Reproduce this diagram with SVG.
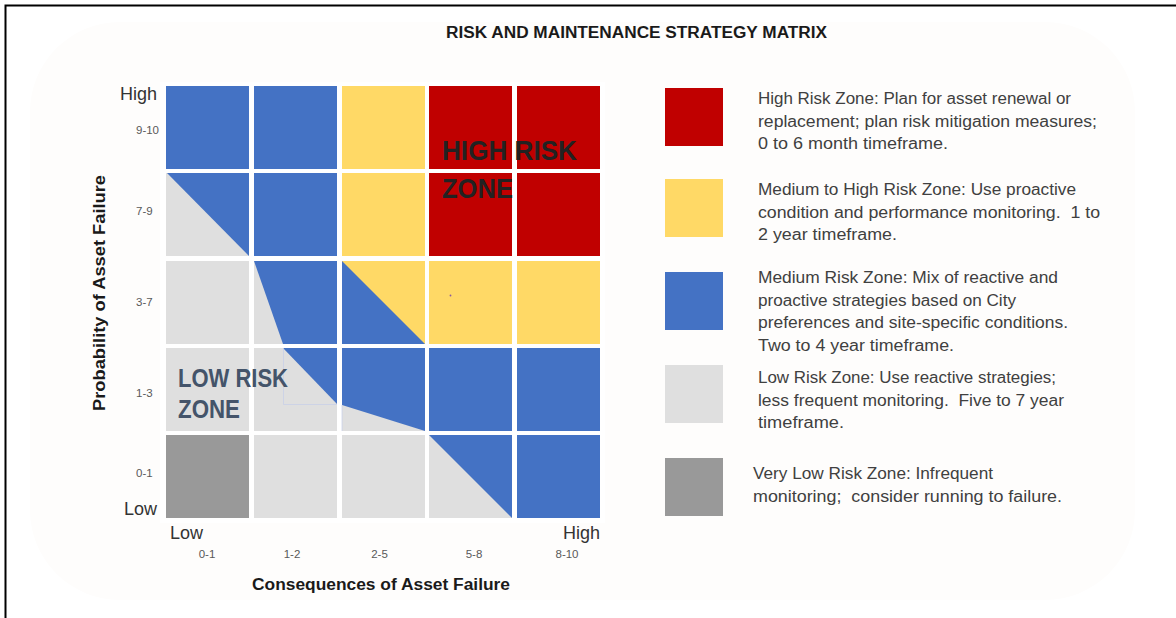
<svg xmlns="http://www.w3.org/2000/svg" width="1176" height="618" viewBox="0 0 1176 618">
  <style>
    .t { font-family: "Liberation Sans", Arial, sans-serif; }
    .title { font-size: 16px; font-weight: bold; fill: #1a1a1a; }
    .ax { font-size: 16px; font-weight: bold; fill: #1a1a1a; }
    .hl { font-size: 18px; fill: #333333; }
    .rg { font-size: 11.5px; fill: #595959; }
    .lg { font-size: 16px; fill: #404040; }
    .zoneH { font-size: 28px; font-weight: bold; fill: #222222; }
    .zoneL { font-size: 25px; font-weight: bold; fill: #44546A; }
    .blue { fill: #4472C4; }
    .yel { fill: #FFD966; }
    .red { fill: #C00000; }
    .lgr { fill: #DFDFDF; }
    .dgr { fill: #999999; }
  </style>

  <rect x="0" y="0" width="1176" height="618" fill="#FFFFFF"/>
  <rect x="30" y="22" width="1105" height="578" rx="90" ry="90" fill="#FEFDFC"/>
  <path d="M5.5,618 V5.5 H1176" fill="none" stroke="#000000" stroke-width="2"/>

  <text class="t title" x="446" y="38" textLength="381" lengthAdjust="spacingAndGlyphs">RISK AND MAINTENANCE STRATEGY MATRIX</text>

  <!-- Matrix -->
  <g id="matrix">
    <rect x="160" y="82" width="445" height="441" fill="#FFFFFF"/>
    <!-- Row 1: 9-10 -->
    <g id="row-9-10">
      <rect class="blue" x="166" y="86" width="83" height="83"/>
      <rect class="blue" x="254" y="86" width="83" height="83"/>
      <rect class="yel" x="342" y="86" width="83" height="83"/>
      <rect class="red" x="429" y="86" width="83" height="83"/>
      <rect class="red" x="517" y="86" width="83" height="83"/>
    </g>
    <!-- Row 2: 7-9 -->
    <g id="row-7-9">
      <rect class="lgr" x="166" y="173" width="83" height="83"/>
      <polygon class="blue" points="167,173 249,173 249,256"/>
      <rect class="blue" x="254" y="173" width="83" height="83"/>
      <rect class="yel" x="342" y="173" width="83" height="83"/>
      <rect class="red" x="429" y="173" width="83" height="83"/>
      <rect class="red" x="517" y="173" width="83" height="83"/>
    </g>
    <!-- Row 3: 3-7 -->
    <g id="row-3-7">
      <rect class="lgr" x="166" y="261" width="83" height="83"/>
      <rect class="lgr" x="254" y="261" width="83" height="83"/>
      <polygon class="blue" points="254,261 337,261 337,344 283,344"/>
      <rect class="yel" x="342" y="261" width="83" height="83"/>
      <polygon class="blue" points="342,261 425,344 342,344"/>
      <rect class="yel" x="429" y="261" width="83" height="83"/>
      <rect class="yel" x="517" y="261" width="83" height="83"/>
      <circle cx="450.5" cy="295.5" r="0.9" fill="#8a5aa0"/>
    </g>
    <!-- Row 4: 1-3 -->
    <g id="row-1-3">
      <rect class="lgr" x="166" y="348" width="83" height="83"/>
      <rect class="lgr" x="254" y="348" width="83" height="83"/>
      <polygon class="blue" points="283,348 337,348 337,404"/>
      <rect class="blue" x="342" y="348" width="83" height="83"/>
      <polygon class="lgr" points="342,405 425,431 342,431"/>
      <rect class="blue" x="429" y="348" width="83" height="83"/>
      <rect class="blue" x="517" y="348" width="83" height="83"/>
      <path d="M283.5,348 V404.5 H337 M342,405 V431" fill="none" stroke="#C5CFEA" stroke-width="0.7"/>
    </g>
    <!-- Row 5: 0-1 -->
    <g id="row-0-1">
      <rect class="dgr" x="166" y="435" width="83" height="83"/>
      <rect class="lgr" x="254" y="435" width="83" height="83"/>
      <rect class="lgr" x="342" y="435" width="83" height="83"/>
      <rect class="lgr" x="429" y="435" width="83" height="83"/>
      <polygon class="blue" points="429,435 512,435 512,518"/>
      <rect class="blue" x="517" y="435" width="83" height="83"/>
    </g>
  </g>

  <g id="zone-labels">
    <text class="t zoneH" x="442" y="160" textLength="135" lengthAdjust="spacingAndGlyphs">HIGH RISK</text>
    <text class="t zoneH" x="442" y="198" textLength="71" lengthAdjust="spacingAndGlyphs">ZONE</text>
    <text class="t zoneL" x="178" y="387" textLength="110" lengthAdjust="spacingAndGlyphs">LOW RISK</text>
    <text class="t zoneL" x="178" y="418" textLength="62" lengthAdjust="spacingAndGlyphs">ZONE</text>
  </g>

  <!-- Y axis -->
  <g id="y-axis">
    <text class="t ax" transform="translate(105,293) rotate(-90)" x="0" y="0" text-anchor="middle" textLength="236" lengthAdjust="spacingAndGlyphs">Probability of Asset Failure</text>
    <text class="t hl" x="157" y="100" text-anchor="end">High</text>
    <text class="t hl" x="157" y="515" text-anchor="end">Low</text>
    <text class="t rg" x="136" y="134">9-10</text>
    <text class="t rg" x="136" y="215">7-9</text>
    <text class="t rg" x="136" y="306">3-7</text>
    <text class="t rg" x="136" y="397">1-3</text>
    <text class="t rg" x="136" y="477">0-1</text>
  </g>

  <!-- X axis -->
  <g id="x-axis">
    <text class="t hl" x="170" y="539">Low</text>
    <text class="t hl" x="600" y="539" text-anchor="end">High</text>
    <text class="t rg" x="207" y="558" text-anchor="middle">0-1</text>
    <text class="t rg" x="292" y="558" text-anchor="middle">1-2</text>
    <text class="t rg" x="379.5" y="558" text-anchor="middle">2-5</text>
    <text class="t rg" x="474" y="558" text-anchor="middle">5-8</text>
    <text class="t rg" x="567" y="558" text-anchor="middle">8-10</text>
    <text class="t ax" x="252" y="590" textLength="258" lengthAdjust="spacingAndGlyphs">Consequences of Asset Failure</text>
  </g>

  <!-- Legend -->
  <g id="legend-high">
    <rect class="red" x="665" y="88" width="58" height="58"/>
    <text class="t lg" x="758" y="104" textLength="313" lengthAdjust="spacingAndGlyphs">High Risk Zone: Plan for asset renewal or</text>
    <text class="t lg" x="758" y="127" textLength="339" lengthAdjust="spacingAndGlyphs">replacement; plan risk mitigation measures;</text>
    <text class="t lg" x="758" y="149" textLength="190" lengthAdjust="spacingAndGlyphs">0 to 6 month timeframe.</text>
  </g>
  <g id="legend-medium-high">
    <rect class="yel" x="665" y="179" width="58" height="58"/>
    <text class="t lg" x="758" y="195" textLength="318" lengthAdjust="spacingAndGlyphs">Medium to High Risk Zone: Use proactive</text>
    <text class="t lg" x="758" y="218" xml:space="preserve" textLength="342" lengthAdjust="spacingAndGlyphs">condition and performance monitoring.  1 to</text>
    <text class="t lg" x="758" y="240" textLength="139" lengthAdjust="spacingAndGlyphs">2 year timeframe.</text>
  </g>
  <g id="legend-medium">
    <rect class="blue" x="665" y="272" width="58" height="58"/>
    <text class="t lg" x="758" y="283" textLength="300" lengthAdjust="spacingAndGlyphs">Medium Risk Zone: Mix of reactive and</text>
    <text class="t lg" x="758" y="306" textLength="258" lengthAdjust="spacingAndGlyphs">proactive strategies based on City</text>
    <text class="t lg" x="758" y="328" textLength="310" lengthAdjust="spacingAndGlyphs">preferences and site-specific conditions.</text>
    <text class="t lg" x="758" y="351" textLength="196" lengthAdjust="spacingAndGlyphs">Two to 4 year timeframe.</text>
  </g>
  <g id="legend-low">
    <rect class="lgr" x="665" y="365" width="58" height="58"/>
    <text class="t lg" x="758" y="383" textLength="298" lengthAdjust="spacingAndGlyphs">Low Risk Zone: Use reactive strategies;</text>
    <text class="t lg" x="758" y="406" xml:space="preserve" textLength="306" lengthAdjust="spacingAndGlyphs">less frequent monitoring.  Five to 7 year</text>
    <text class="t lg" x="758" y="428" textLength="86" lengthAdjust="spacingAndGlyphs">timeframe.</text>
  </g>
  <g id="legend-very-low">
    <rect class="dgr" x="665" y="458" width="58" height="58"/>
    <text class="t lg" x="753" y="479" textLength="240" lengthAdjust="spacingAndGlyphs">Very Low Risk Zone: Infrequent</text>
    <text class="t lg" x="753" y="502" xml:space="preserve" textLength="309" lengthAdjust="spacingAndGlyphs">monitoring;  consider running to failure.</text>
  </g>
</svg>
